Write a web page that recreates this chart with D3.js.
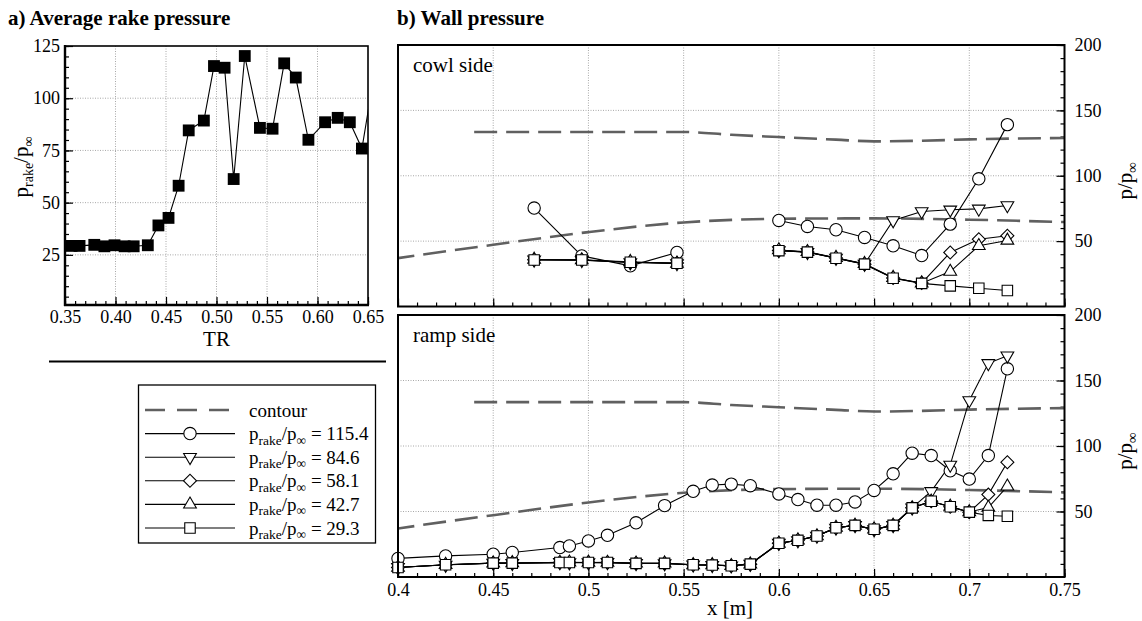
<!DOCTYPE html>
<html>
<head>
<meta charset="utf-8">
<script src="https://cdn.jsdelivr.net/npm/d3@7"></script>
<style>
  body { margin: 0; background: #fff; }
  svg text { font-family: 'Liberation Serif', 'Times New Roman', Times, 'DejaVu Serif', serif !important; fill: #000; }
</style>
</head>
<body>
<svg id="chart" width="1142" height="621"></svg>
<script>
// ---------- a) average rake pressure vs. throttling ratio ----------
const trValues   = [0.3565, 0.3644, 0.379, 0.389, 0.399, 0.409, 0.418, 0.432, 0.4425, 0.4525, 0.4625,
                    0.4725, 0.4875, 0.4975, 0.508, 0.517, 0.528, 0.543, 0.5555, 0.567, 0.5785, 0.591,
                    0.6075, 0.62, 0.632, 0.644, 0.656];
const rakeValues = [29.3, 29.3, 29.8, 29.1, 29.6, 29.1, 29.1, 29.6, 39.1, 42.7, 58.1,
                    84.6, 89.3, 115.4, 114.6, 61.3, 120.2, 85.8, 85.4, 116.7, 109.9, 80.1,
                    88.5, 90.6, 88.5, 75.9, 111.0];
const trTicks      = [0.35, 0.40, 0.45, 0.50, 0.55, 0.60, 0.65];
const trTickLabels = ["0.35", "0.40", "0.45", "0.50", "0.55", "0.60", "0.65"];
const rakeTicks      = [25, 50, 75, 100, 125];
const rakeTickLabels = ["25", "50", "75", "100", "125"];

// ---------- b) wall pressure ----------
const xTicks      = [0.4, 0.45, 0.5, 0.55, 0.6, 0.65, 0.7, 0.75];
const xTickLabels = ["0.4", "0.45", "0.5", "0.55", "0.6", "0.65", "0.7", "0.75"];
const pTicks      = [50, 100, 150, 200];
const pTickLabels = ["50", "100", "150", "200"];

// duct contour (scaled), drawn in both wall panels
const contourUpperX = [0.44, 0.55, 0.575, 0.6, 0.63, 0.65, 0.675, 0.7, 0.75];
const contourUpperP = [133.5, 133.5, 131.3, 129.6, 127.6, 126.3, 126.8, 127.8, 128.9];
const contourLowerX = [0.38, 0.4, 0.45, 0.5, 0.55, 0.6, 0.65, 0.7, 0.75];
const contourLowerP = [32.5, 37.0, 47.2, 56.9, 64.3, 67.1, 67.4, 66.4, 64.6];

// rake pressure levels of the five wall-pressure series
const seriesLabels  = ["115.4", "84.6", "58.1", "42.7", "29.3"];
const seriesSymbols = ["circle", "triDown", "diamond", "triUp", "square"];

// cowl side taps
const cowlX        = [0.4715, 0.4965, 0.522, 0.5465, 0.600, 0.615, 0.630, 0.645, 0.660, 0.675, 0.690, 0.705, 0.720];
const cowlCircle   = [75.3, 38.7, 31.1, 41.3, 65.8, 61.2, 58.7, 52.8, 46.4, 39.0, 63.0, 97.7, 139.1];
const cowlTriDown  = [35.7, 35.4, 33.6, 33.0, 42.9, 41.5, 37.1, 32.5, 65.8, 72.7, 74.0, 74.7, 77.3];
const cowlDiamond  = [35.8, 35.7, 33.9, 33.2, 42.8, 41.7, 37.0, 32.3, 21.8, 17.9, 41.3, 51.5, 54.1];
const cowlTriUp    = [35.9, 35.5, 34.2, 32.9, 43.1, 41.8, 37.3, 32.7, 22.0, 17.8, 26.7, 46.4, 50.5];
const cowlSquare   = [35.6, 35.6, 33.8, 33.1, 42.7, 41.6, 36.9, 32.4, 21.6, 17.7, 15.8, 14.0, 12.2];

// ramp side taps
const rampX        = [0.400, 0.425, 0.450, 0.460, 0.485, 0.490, 0.500, 0.510, 0.525, 0.540, 0.555, 0.565, 0.575, 0.585,
                      0.600, 0.610, 0.620, 0.630, 0.640, 0.650, 0.660, 0.670, 0.680, 0.690, 0.700, 0.710, 0.720];
const rampCircle   = [14.2, 16.1, 17.4, 18.7, 22.5, 23.7, 27.5, 31.8, 41.4, 54.5, 65.4, 70.2, 70.9, 69.7,
                      63.4, 59.1, 54.8, 54.8, 57.3, 66.1, 78.8, 94.5, 92.7, 81.1, 74.8, 92.7, 158.9];
const rampTriDown  = [7.4, 9.2, 10.7, 10.5, 11.2, 11.0, 11.1, 11.2, 10.5, 10.3, 9.4, 9.0, 8.7, 9.9,
                      25.9, 27.9, 31.4, 37.5, 39.5, 36.3, 39.5, 52.9, 65.4, 85.6, 134.8, 163.1, 168.9];
const rampDiamond  = [7.3, 9.3, 10.6, 10.6, 11.1, 11.1, 11.0, 11.1, 10.4, 10.4, 9.3, 9.1, 8.6, 9.8,
                      25.8, 28.0, 31.3, 37.6, 39.4, 36.4, 39.4, 52.8, 57.8, 53.6, 49.5, 62.9, 87.6];
const rampTriUp    = [7.2, 9.4, 10.5, 10.7, 11.0, 11.2, 11.1, 11.0, 10.4, 10.5, 9.2, 9.2, 8.5, 9.7,
                      25.6, 28.1, 31.2, 37.7, 39.3, 36.5, 39.3, 52.6, 57.6, 53.8, 49.6, 53.0, 69.2];
const rampSquare   = [7.3, 9.3, 10.6, 10.6, 11.1, 11.1, 11.1, 11.1, 10.4, 10.4, 9.3, 9.1, 8.6, 9.8,
                      25.8, 28.0, 31.3, 37.6, 39.4, 36.4, 39.4, 52.8, 57.8, 53.6, 49.5, 47.0, 46.4];

const cowlSeries = [cowlCircle, cowlTriDown, cowlDiamond, cowlTriUp, cowlSquare];
const rampSeries = [rampCircle, rampTriDown, rampDiamond, rampTriUp, rampSquare];

// ---------- drawing ----------
const FONT = "'Liberation Serif', 'Times New Roman', Times, 'DejaVu Serif', serif";
const svg = d3.select("#chart").attr("font-family", FONT);
const GRID = "#a8a8a8";
const CONTOUR = "#606060";
const TICK_FONT = 18;

const defs = svg.append("defs");
function clipRect(id, x0, y0, x1, y1) {
  defs.append("clipPath").attr("id", id).append("rect")
    .attr("x", x0).attr("y", y0).attr("width", x1 - x0).attr("height", y1 - y0);
  return `url(#${id})`;
}

function symbolPath(kind) {
  switch (kind) {
    case "circle":  return d3.symbol(d3.symbolCircle, 120)();
    case "triDown": return d3.symbol(d3.symbolTriangle, 70)();
    case "triUp":   return d3.symbol(d3.symbolTriangle, 70)();
    case "diamond": return d3.symbol(d3.symbolSquare, 84)();
    case "square":  return d3.symbol(d3.symbolSquare, 110)();
  }
}
function symbolRotate(kind) {
  return kind === "triDown" ? 180 : (kind === "diamond" ? 45 : 0);
}

// subscripted pressure-ratio label: p_rake/p_inf
function rakeLabel(textSel, mainSize, subSize, suffix) {
  textSel.append("tspan").text("p");
  textSel.append("tspan").attr("font-size", subSize).attr("dy", mainSize * 0.24).text("rake");
  textSel.append("tspan").attr("dy", -mainSize * 0.24).text("/p");
  textSel.append("tspan").attr("font-size", subSize).attr("dy", mainSize * 0.24).text("\u221E");
  if (suffix) textSel.append("tspan").attr("dy", -mainSize * 0.24).text(suffix);
}

// ===== panel a =====
const aL = 65, aR = 368, aT = 46, aB = 305;
const xA = d3.scaleLinear().domain([0.35, 0.65]).range([aL, aR]);
const yA = d3.scaleLinear().domain([1, 125]).range([aB, aT]);
const gA = svg.append("g");

gA.append("g").selectAll("line").data(trTicks.slice(1, -1)).join("line")
  .attr("x1", d => xA(d)).attr("x2", d => xA(d)).attr("y1", aT).attr("y2", aB)
  .attr("stroke", GRID).attr("stroke-width", 1).attr("stroke-dasharray", "1,1.5");
gA.append("g").selectAll("line").data(rakeTicks.slice(0, -1)).join("line")
  .attr("y1", d => yA(d)).attr("y2", d => yA(d)).attr("x1", aL).attr("x2", aR)
  .attr("stroke", GRID).attr("stroke-width", 1).attr("stroke-dasharray", "1,1.5");

// minor / major ticks (inward) and labels
const axA_xMinor = d3.axisBottom(xA).tickValues(d3.range(0.35, 0.6501, 0.01)).tickSize(-4).tickFormat("");
const axA_x = d3.axisBottom(xA).tickValues(trTicks).tickSize(-8).tickPadding(5)
  .tickFormat((d, i) => trTickLabels[i]);
const axA_yMinor = d3.axisLeft(yA).tickValues(d3.range(5, 125.1, 5)).tickSize(-4).tickFormat("");
const axA_y = d3.axisLeft(yA).tickValues(rakeTicks).tickSize(-8).tickPadding(5)
  .tickFormat((d, i) => rakeTickLabels[i]);
[[axA_xMinor, "x"], [axA_x, "x"], [axA_yMinor, "y"], [axA_y, "y"]].forEach(([ax, dir]) => {
  const g = gA.append("g").attr("transform", dir === "x" ? `translate(0,${aB})` : `translate(${aL},0)`).call(ax);
  g.attr("font-family", FONT);
  g.select(".domain").remove();
  g.selectAll(".tick line").attr("stroke", "#000").attr("stroke-width", 1.2);
  g.selectAll(".tick text").attr("font-size", TICK_FONT);
});

const clipA = clipRect("clipA", aL, aT, aR, aB);
gA.append("path").datum(trValues.map((t, i) => [t, rakeValues[i]]))
  .attr("clip-path", clipA)
  .attr("fill", "none").attr("stroke", "#000").attr("stroke-width", 1.1)
  .attr("d", d3.line().x(d => xA(d[0])).y(d => yA(d[1])));
gA.append("g").attr("clip-path", clipA).selectAll("path").data(trValues).join("path")
  .attr("transform", (d, i) => `translate(${xA(d)},${yA(rakeValues[i])})`)
  .attr("d", d3.symbol(d3.symbolSquare, 140)())
  .attr("fill", "#000");

gA.append("rect").attr("x", aL).attr("y", aT).attr("width", aR - aL).attr("height", aB - aT)
  .attr("fill", "none").attr("stroke", "#000").attr("stroke-width", 1.6);
gA.append("line").attr("x1", aL).attr("x2", aL).attr("y1", aT - 1).attr("y2", aB + 1)
  .attr("stroke", "#000").attr("stroke-width", 2.4);
gA.append("line").attr("x1", aL - 1).attr("x2", aR + 1).attr("y1", aB).attr("y2", aB)
  .attr("stroke", "#000").attr("stroke-width", 2.4);

svg.append("text").attr("x", 8).attr("y", 25).attr("font-size", 21).attr("font-weight", "bold")
  .text("a) Average rake pressure");
svg.append("text").attr("x", (aL + aR) / 2).attr("y", 346).attr("font-size", 21)
  .attr("text-anchor", "middle").text("TR");
rakeLabel(svg.append("text").attr("font-size", 21).attr("text-anchor", "middle")
  .attr("transform", "translate(28,167) rotate(-90)"), 21, 14);

// separator under panel a
svg.append("line").attr("x1", 49).attr("x2", 386).attr("y1", 361.5).attr("y2", 361.5)
  .attr("stroke", "#000").attr("stroke-width", 2);

// ===== legend =====
const lgL = 138.5, lgR = 375.5, lgT = 385, lgB = 543;
const gL = svg.append("g");
gL.append("rect").attr("x", lgL).attr("y", lgT).attr("width", lgR - lgL).attr("height", lgB - lgT)
  .attr("fill", "#fff").attr("stroke", "#000").attr("stroke-width", 1.3);
const rowY = d3.scaleLinear().domain([0, 1]).range([410, 433.6]);
gL.append("line").attr("x1", 145).attr("x2", 232).attr("y1", rowY(0)).attr("y2", rowY(0))
  .attr("stroke", CONTOUR).attr("stroke-width", 2.6).attr("stroke-dasharray", "20,12");
gL.append("text").attr("x", 249).attr("y", rowY(0) + 6.5).attr("font-size", 19).text("contour");
seriesLabels.forEach((lab, i) => {
  const y = rowY(i + 1);
  gL.append("line").attr("x1", 145).attr("x2", 235).attr("y1", y).attr("y2", y)
    .attr("stroke", "#000").attr("stroke-width", 1.1);
  gL.append("path").attr("d", symbolPath(seriesSymbols[i]))
    .attr("transform", `translate(190,${y}) rotate(${symbolRotate(seriesSymbols[i])})`)
    .attr("fill", "#fff").attr("stroke", "#000").attr("stroke-width", 1.1);
  rakeLabel(gL.append("text").attr("x", 249).attr("y", y + 6.5).attr("font-size", 19), 19, 13.5, " = " + lab);
});

// ===== panel b =====
const bL = 398, bR = 1064.5;
const xB = d3.scaleLinear().domain([0.4, 0.75]).range([bL, bR]);
const panels = [
  { name: "cowl side", top: 45, bottom: 306.5, xs: cowlX, series: cowlSeries, id: "clipCowl", labels: false },
  { name: "ramp side", top: 315, bottom: 577, xs: rampX, series: rampSeries, id: "clipRamp", labels: true }
];

panels.forEach(pn => {
  const y = d3.scaleLinear().domain([0, 200]).range([pn.bottom, pn.top]);
  const g = svg.append("g");
  const clip = clipRect(pn.id, bL, pn.top, bR, pn.bottom);

  g.append("g").selectAll("line").data(xTicks.slice(1, -1)).join("line")
    .attr("x1", d => xB(d)).attr("x2", d => xB(d)).attr("y1", pn.top).attr("y2", pn.bottom)
    .attr("stroke", GRID).attr("stroke-width", 1).attr("stroke-dasharray", "1,1.5");
  g.append("g").selectAll("line").data(pTicks.slice(0, -1)).join("line")
    .attr("y1", d => y(d)).attr("y2", d => y(d)).attr("x1", bL).attr("x2", bR)
    .attr("stroke", GRID).attr("stroke-width", 1).attr("stroke-dasharray", "1,1.5");

  const axXMinor = d3.axisBottom(xB).tickValues(d3.range(0.4, 0.7501, 0.01)).tickSize(-4).tickFormat("");
  const axX = d3.axisBottom(xB).tickValues(xTicks).tickSize(-8).tickPadding(6)
    .tickFormat((d, i) => pn.labels ? xTickLabels[i] : "");
  const axYMinor = d3.axisRight(y).tickValues(d3.range(10, 200.1, 10)).tickSize(-4).tickFormat("");
  const axY = d3.axisRight(y).tickValues(pTicks).tickSize(-8).tickPadding(10)
    .tickFormat((d, i) => pTickLabels[i]);
  [[axXMinor, "x"], [axX, "x"], [axYMinor, "y"], [axY, "y"]].forEach(([ax, dir]) => {
    const ga = g.append("g").attr("transform", dir === "x" ? `translate(0,${pn.bottom})` : `translate(${bR},0)`).call(ax);
    ga.attr("font-family", FONT);
    ga.select(".domain").remove();
    ga.selectAll(".tick line").attr("stroke", "#000").attr("stroke-width", 1.2);
    ga.selectAll(".tick text").attr("font-size", TICK_FONT);
  });

  // contour
  const cLine = d3.line().curve(d3.curveMonotoneX).x(d => xB(d[0])).y(d => y(d[1]));
  [[contourUpperX, contourUpperP], [contourLowerX, contourLowerP]].forEach(([cx, cp]) => {
    g.append("path").datum(cx.map((v, i) => [v, cp[i]])).attr("clip-path", clip)
      .attr("fill", "none").attr("stroke", CONTOUR).attr("stroke-width", 2.6)
      .attr("stroke-dasharray", "23,9").attr("d", cLine);
  });

  // pressure series: lines first (broken where taps are absent), then symbols
  const line = d3.line().x(d => xB(d[0])).y(d => y(d[1]));
  pn.series.forEach(vals => {
    const pts = pn.xs.map((v, i) => [v, vals[i]]);
    const segs = [[pts[0]]];
    for (let i = 1; i < pts.length; i++) {
      if (pts[i][0] - pts[i - 1][0] > 0.04) segs.push([]);
      segs[segs.length - 1].push(pts[i]);
    }
    segs.forEach(s => g.append("path").datum(s).attr("clip-path", clip)
      .attr("fill", "none").attr("stroke", "#000").attr("stroke-width", 1.1).attr("d", line));
  });
  pn.series.forEach((vals, si) => {
    const kind = seriesSymbols[si];
    g.append("g").selectAll("path").data(pn.xs).join("path")
      .attr("transform", (d, i) => `translate(${xB(d)},${y(vals[i])}) rotate(${symbolRotate(kind)})`)
      .attr("d", symbolPath(kind))
      .attr("fill", "#fff").attr("stroke", "#000").attr("stroke-width", 1.1);
  });

  g.append("rect").attr("x", bL).attr("y", pn.top).attr("width", bR - bL).attr("height", pn.bottom - pn.top)
    .attr("fill", "none").attr("stroke", "#000").attr("stroke-width", 2);

  g.append("text").attr("x", 413).attr("y", pn.top + 27).attr("font-size", 21).text(pn.name);

  const lab = g.append("text").attr("font-size", 21).attr("text-anchor", "middle")
    .attr("transform", `translate(1132,${(pn.top + pn.bottom) / 2 + 5}) rotate(-90)`);
  lab.append("tspan").text("p/p");
  lab.append("tspan").attr("font-size", 15).attr("dy", 5).text("\u221E");
});

svg.append("text").attr("x", 397).attr("y", 25).attr("font-size", 21).attr("font-weight", "bold")
  .text("b) Wall pressure");
svg.append("text").attr("x", 730).attr("y", 615).attr("font-size", 21)
  .attr("text-anchor", "middle").text("x [m]");
</script>
</body>
</html>
